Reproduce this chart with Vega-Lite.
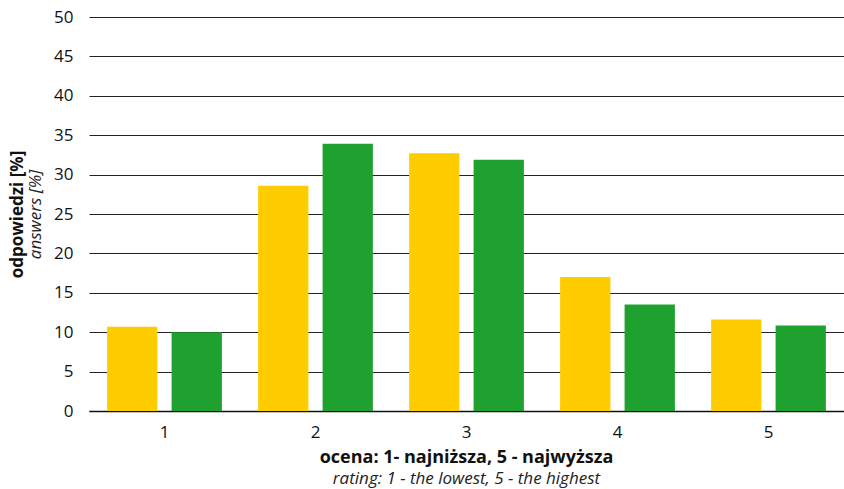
{
  "$schema": "https://vega.github.io/schema/vega-lite/v6.json",
  "width": 844,
  "height": 489,
  "autosize": {"type": "fit", "contains": "padding"},
  "padding": {"left": 8, "top": 8, "right": 0, "bottom": 2},
  "background": "white",
  "config": {
    "font": "Open Sans",
    "view": {"stroke": null},
    "axis": {"labelFont": "Open Sans", "titleFont": "Open Sans"}
  },
  "title": {
    "text": "ocena: 1- najniższa, 5 - najwyższa",
    "subtitle": "rating: 1 - the lowest, 5 - the highest",
    "orient": "bottom",
    "anchor": "middle",
    "frame": "group",
    "font": "Open Sans",
    "fontSize": 18,
    "fontWeight": "bold",
    "color": "#111",
    "subtitleFont": "Open Sans",
    "subtitleFontSize": 17,
    "subtitleFontStyle": "italic",
    "subtitleColor": "#222",
    "subtitlePadding": 4,
    "offset": 9
  },
  "data": {
    "values": [
      {"rating": "1", "series": "seria A", "value": 10.7},
      {"rating": "1", "series": "seria B", "value": 10.0},
      {"rating": "2", "series": "seria A", "value": 28.6},
      {"rating": "2", "series": "seria B", "value": 33.9},
      {"rating": "3", "series": "seria A", "value": 32.7},
      {"rating": "3", "series": "seria B", "value": 31.9},
      {"rating": "4", "series": "seria A", "value": 17.0},
      {"rating": "4", "series": "seria B", "value": 13.5},
      {"rating": "5", "series": "seria A", "value": 11.6},
      {"rating": "5", "series": "seria B", "value": 10.85}
    ]
  },
  "encoding": {
    "x": {
      "field": "rating",
      "type": "nominal",
      "scale": {"paddingInner": 0.24, "paddingOuter": 0.12},
      "axis": {
        "title": null,
        "labelAngle": 0,
        "labelFontSize": 17,
        "labelColor": "#111",
        "labelPadding": 13,
        "ticks": false,
        "domain": true,
        "domainColor": "#111",
        "domainWidth": 1.5,
        "grid": false
      }
    },
    "xOffset": {
      "field": "series",
      "type": "nominal",
      "scale": {"domain": ["seria A", "seria B"], "paddingInner": 0.22, "paddingOuter": 0}
    }
  },
  "layer": [
    {
      "transform": [{"filter": "datum.series === 'seria A'"}],
      "mark": {"type": "bar", "color": "#ffcc00"},
      "encoding": {
        "y": {
          "field": "value",
          "type": "quantitative",
          "scale": {"domain": [0, 50], "nice": false},
          "axis": {
            "orient": "left",
            "values": [0, 5, 10, 15, 20, 25, 30, 35, 40, 45, 50],
            "title": "answers [%]",
            "titleFontStyle": "italic",
            "titleFontWeight": "normal",
            "titleFontSize": 17,
            "titleColor": "#222",
            "titlePadding": 9,
            "labelFontSize": 17,
            "labelColor": "#111",
            "labelPadding": 16,
            "ticks": false,
            "domain": false,
            "grid": true,
            "gridColor": "#222",
            "gridWidth": 1
          }
        }
      }
    },
    {
      "transform": [{"filter": "datum.series === 'seria B'"}],
      "mark": {"type": "bar", "color": "#1fa12f"},
      "encoding": {
        "y": {
          "field": "value",
          "type": "quantitative",
          "scale": {"domain": [0, 50], "nice": false},
          "axis": {
            "orient": "left",
            "offset": 60,
            "title": "odpowiedzi [%]",
            "titleFontWeight": "bold",
            "titleFontSize": 17,
            "titleColor": "#111",
            "titlePadding": 3,
            "labels": false,
            "ticks": false,
            "domain": false,
            "grid": false
          }
        }
      }
    }
  ],
  "resolve": {"scale": {"y": "independent"}}
}
